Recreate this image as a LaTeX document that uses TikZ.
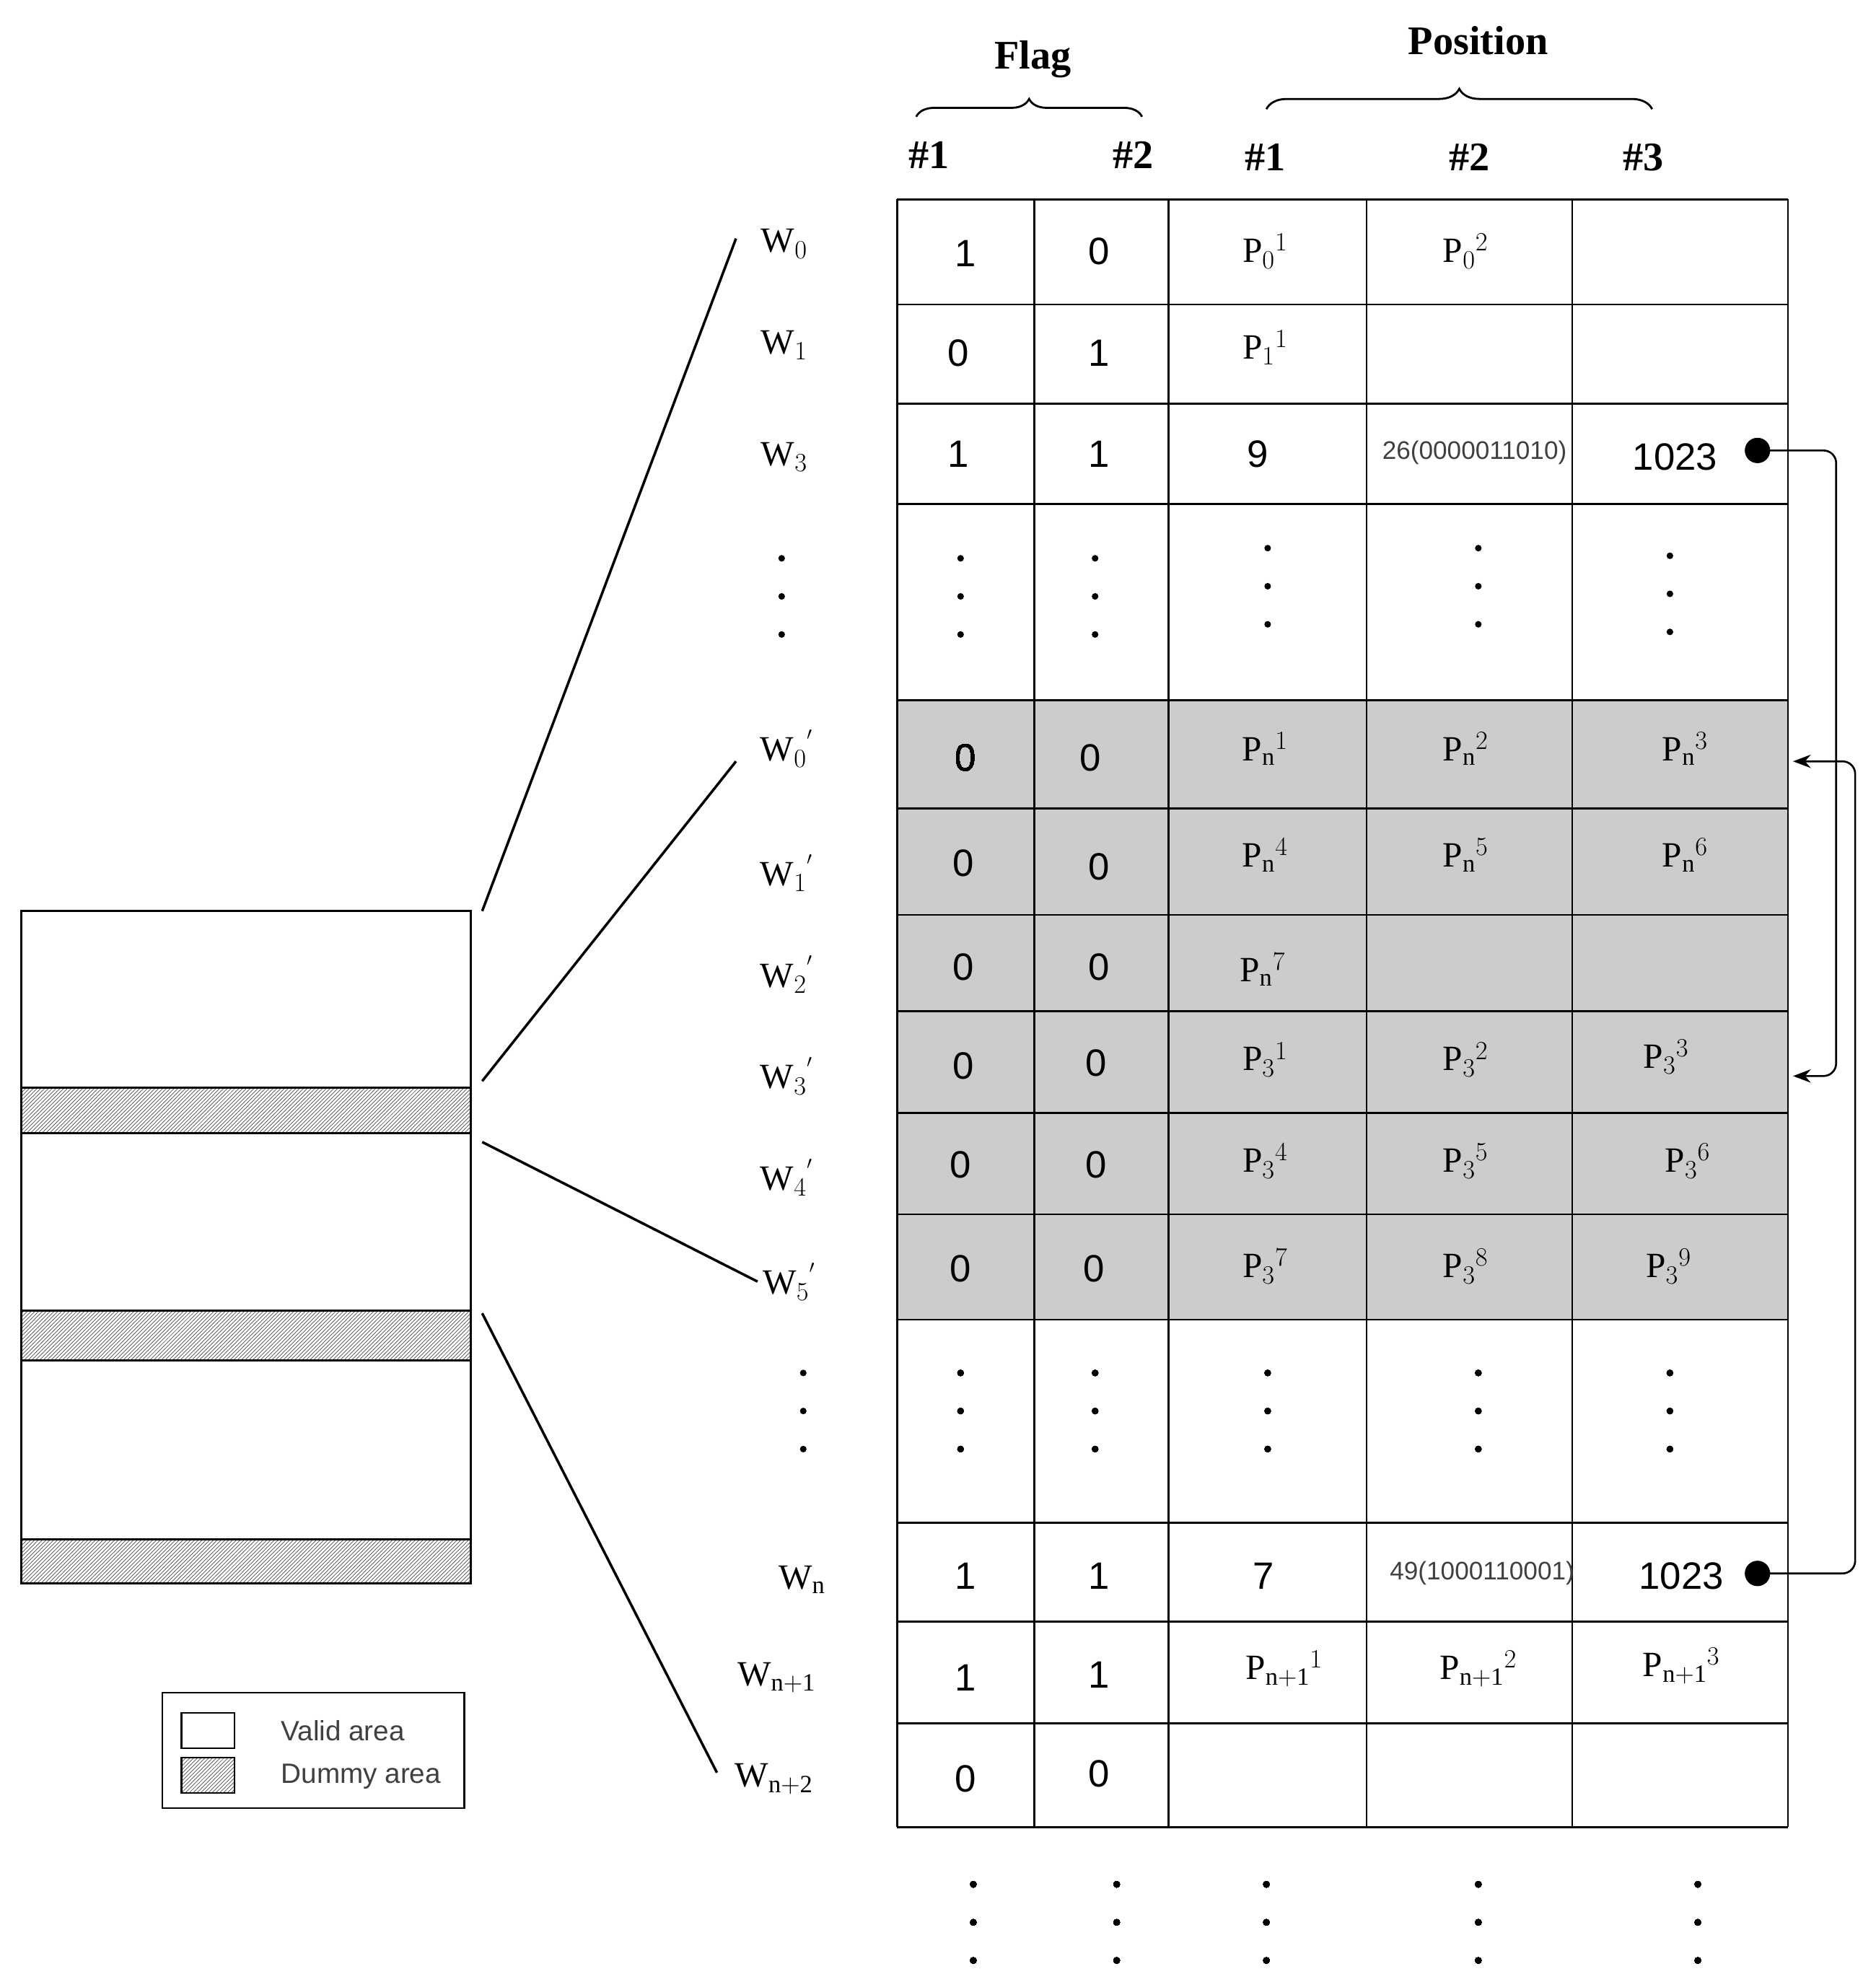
\documentclass[tikz,border=0pt]{standalone}
\usepackage{fontspec}
\setmainfont{Liberation Serif}
\newfontfamily\arialf{Liberation Sans}
\usetikzlibrary{patterns,decorations.pathreplacing,arrows.meta}
\begin{document}
\begin{tikzpicture}[x=1pt,y=-1pt,
 num/.style={font=\arialf\fontsize{30}{30}\selectfont},
 pp/.style={font=\fontsize{28}{28}\selectfont},
 wl/.style={font=\fontsize{28}{28}\selectfont},
 hd/.style={font=\bfseries\fontsize{32}{32}\selectfont},
 small/.style={font=\arialf\fontsize{20}{20}\selectfont,text=black!75},
 ln/.style={line width=1.6pt},
 hatch/.style={pattern=north east lines,pattern color=black!70}]
\useasboundingbox (0,0) rectangle (1478,1562);
\newcommand\vdts[2]{\fill (#1,#2-30) circle (2.6pt) (#1,#2) circle (2.6pt) (#1,#2+30) circle (2.6pt);}
% gray area
\fill[black!20] (707,552) rectangle (1409,1040);
% table grid
\foreach \x in {707,815,921,1077,1239,1409} \draw[ln] (\x,157) -- (\x,1440);
\foreach \y in {157,240,318,397,552,637,721,797,877,957,1040,1200,1278,1358,1440} \draw[ln] (707,\y) -- (1409,\y);
% headers
\node[hd] (flag) at (814,47) {Flag};
\node[hd] (pos) at (1165,32) {Position};
\draw[ln,decorate,decoration={brace,amplitude=14pt}] (722,92) -- (900,92);
\draw[ln,decorate,decoration={brace,amplitude=16pt}] (998,86) -- (1302,86);
\node[hd] (h1) at (732,122) {\#1};
\node[hd] (h2) at (893,122) {\#2};
\node[hd] (h3) at (997,124) {\#1};
\node[hd] (h4) at (1158,124) {\#2};
\node[hd] (h5) at (1295,124) {\#3};
% W labels
\node[wl] (w0) at (618,192) {W$_0$};
\node[wl] (w1) at (618,272) {W$_1$};
\node[wl] (w3) at (618,360) {W$_3$};
\vdts{616}{470}
\node[wl] (w0p) at (620,590) {W$_0$$^{'}$};
\node[wl] (w1p) at (620,688) {W$_1$$^{'}$};
\node[wl] (w2p) at (620,768) {W$_2$$^{'}$};
\node[wl] (w3p) at (620,848) {W$_3$$^{'}$};
\node[wl] (w4p) at (620,928) {W$_4$$^{'}$};
\node[wl] (w5p) at (622,1010) {W$_5$$^{'}$};
\vdts{633}{1112}
\node[wl] (wn) at (632,1245) {W$_{\mathrm n}$};
\node[wl] (wn1) at (612,1322) {W$_{\mathrm{n+1}}$};
\node[wl] (wn2) at (610,1402) {W$_{\mathrm{n+2}}$};
% row W0
\node[num] (a1) at (761,200) {1}; \node[num] (a2) at (866,198) {0};
\node[pp] (a3) at (997,198) {P$_0$$^1$}; \node[pp] (a4) at (1155,198) {P$_0$$^2$};
% W1
\node[num] (b1) at (755,278) {0}; \node[num] (b2) at (866,278) {1};
\node[pp] (b3) at (997,274) {P$_1$$^1$};
% W3
\node[num] (c1) at (755,358) {1}; \node[num] (c2) at (866,358) {1};
\node[num] (c3) at (991,358) {9}; \node[small] (c4) at (1162,357) {26(0000011010)};
\node[num] (c5) at (1320,360) {1023};
\fill (1385,355) circle (10pt); \coordinate (d1) at (1385,355);
% dots
\foreach \x/\y in {757/470,863/470,999/462,1165/462,1316/468} \vdts{\x}{\y}
\foreach \x in {757,863,999,1165,1316} \vdts{\x}{1112}
\foreach \x in {767,880,998,1165,1338} \vdts{\x}{1515}
% gray rows
\node[num] (e1) at (761,597) {0}; \node[num] (e2) at (859,597) {0};
\node[pp] (e3) at (997,590) {P$_{\mathrm n}$$^1$}; \node[pp] (e4) at (1155,590) {P$_{\mathrm n}$$^2$}; \node[pp] (e5) at (1328,590) {P$_{\mathrm n}$$^3$};
\node[num] (f1) at (759,680) {0}; \node[num] (f2) at (866,683) {0};
\node[pp] (f3) at (997,674) {P$_{\mathrm n}$$^4$}; \node[pp] (f4) at (1155,674) {P$_{\mathrm n}$$^5$}; \node[pp] (f5) at (1328,674) {P$_{\mathrm n}$$^6$};
\node[num] (g1) at (759,762) {0}; \node[num] (g2) at (866,762) {0};
\node[pp] (g3) at (995,764) {P$_{\mathrm n}$$^7$};
\node[num] (h1x) at (759,840) {0}; \node[num] (h2x) at (864,838) {0};
\node[pp] (h3x) at (997,835) {P$_3$$^1$}; \node[pp] (h4x) at (1155,835) {P$_3$$^2$}; \node[pp] (h5x) at (1313,833) {P$_3$$^3$};
\node[num] (i1) at (757,918) {0}; \node[num] (i2) at (864,918) {0};
\node[pp] (i3) at (997,915) {P$_3$$^4$}; \node[pp] (i4) at (1155,915) {P$_3$$^5$}; \node[pp] (i5) at (1330,915) {P$_3$$^6$};
\node[num] (j1) at (757,1000) {0}; \node[num] (j2) at (862,1000) {0};
\node[pp] (j3) at (997,998) {P$_3$$^7$}; \node[pp] (j4) at (1155,998) {P$_3$$^8$}; \node[pp] (j5) at (1315,998) {P$_3$$^9$};
% Wn
\node[num] (k1) at (761,1242) {1}; \node[num] (k2) at (866,1242) {1};
\node[num] (k3) at (996,1242) {7}; \node[small] (k4) at (1168,1240) {49(1000110001)};
\node[num] (k5) at (1325,1242) {1023};
\fill (1385,1240) circle (10pt); \coordinate (d2) at (1385,1240);
\node[num] (l1) at (761,1322) {1}; \node[num] (l2) at (866,1320) {1};
\node[pp] (l3) at (1012,1315) {P$_{\mathrm{n+1}}$$^1$}; \node[pp] (l4) at (1165,1315) {P$_{\mathrm{n+1}}$$^2$}; \node[pp] (l5) at (1325,1313) {P$_{\mathrm{n+1}}$$^3$};
\node[num] (m1) at (761,1402) {0}; \node[num] (m2) at (866,1398) {0};
% arrows
\coordinate (t1) at (1413,848); \coordinate (t2) at (1413,600);
\draw[line width=1.5pt,-{Stealth[length=14pt]},rounded corners=10pt] (d1) -- (1447,355) -- (1447,848) -- (t1);
\draw[line width=1.5pt,-{Stealth[length=14pt]},rounded corners=10pt] (d2) -- (1462,1240) -- (1462,600) -- (t2);
% left block
\draw[ln] (17,718) rectangle (371,1248);
\foreach \a/\b in {857/893,1033/1072,1213/1248} \draw[ln,hatch] (17,\a) rectangle (371,\b);
\coordinate (p1) at (380,718); \coordinate (p2) at (380,852); \coordinate (p3) at (380,900); \coordinate (p4) at (380,1035);
\coordinate (q1) at (580,188); \coordinate (q2) at (580,600); \coordinate (q3) at (597,1010); \coordinate (q4) at (565,1397);
\draw[line width=2pt] (p1)--(q1) (p2)--(q2) (p3)--(q3) (p4)--(q4);
% legend
\draw[line width=1.5pt] (128,1334) rectangle (366,1425);
\draw[line width=1.2pt] (143,1350) rectangle (185,1378);
\draw[line width=1.2pt,hatch] (143,1385) rectangle (185,1413);
\node[anchor=west,font=\arialf\fontsize{22}{22}\selectfont,text=black!75] (lv) at (218,1364) {Valid area};
\node[anchor=west,font=\arialf\fontsize{22}{22}\selectfont,text=black!75] (ld) at (218,1400) {Dummy area};
\end{tikzpicture}
\end{document}
